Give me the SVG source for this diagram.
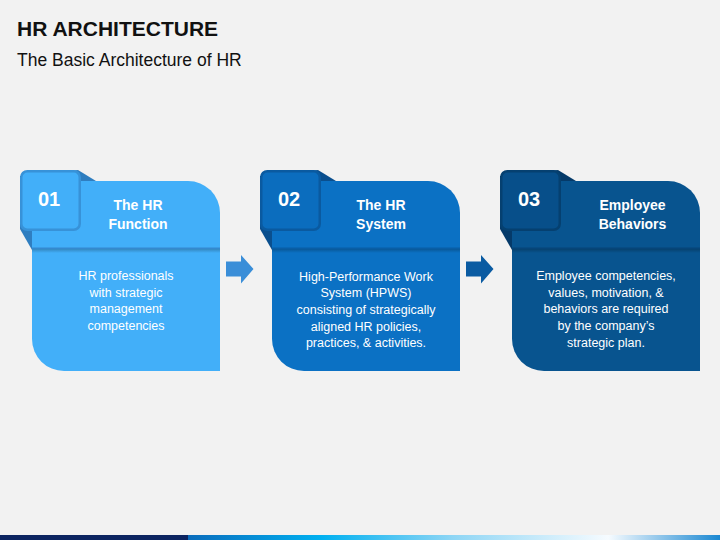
<svg xmlns="http://www.w3.org/2000/svg" width="720" height="540" viewBox="0 0 720 540">
  <defs>
    <linearGradient id="barGrad" x1="188" y1="0" x2="720" y2="0" gradientUnits="userSpaceOnUse">
      <stop offset="0" stop-color="#0a6cbc"/>
      <stop offset="0.25" stop-color="#00b0f0"/>
      <stop offset="0.5" stop-color="#8fd6f5"/>
      <stop offset="0.79" stop-color="#f6fbff"/>
      <stop offset="1" stop-color="#1a88d2"/>
    </linearGradient>
    <linearGradient id="sepShade" x1="0" y1="0" x2="0" y2="1">
      <stop offset="0" stop-color="#000" stop-opacity="0.28"/>
      <stop offset="1" stop-color="#000" stop-opacity="0"/>
    </linearGradient>
    <path id="arrowShape" d="M0,6.5 H15 V0 L27.5,14 L15,28.5 V21.5 H0 Z"/>
  </defs>
  <style>
    .title { font-family: "Liberation Sans", Arial, sans-serif; font-weight: bold; font-size: 21px; fill: #111; }
    .subtitle { font-family: "Liberation Sans", Arial, sans-serif; font-size: 17.5px; fill: #111; }
    .num { font-family: "Liberation Sans", Arial, sans-serif; font-weight: bold; font-size: 20px; fill: #fff; text-anchor: middle; }
    .head { font-family: "Liberation Sans", Arial, sans-serif; font-weight: bold; font-size: 14px; fill: #fff; text-anchor: middle; }
    .body { font-family: "Liberation Sans", Arial, sans-serif; font-size: 12.5px; fill: #fff; text-anchor: middle; }
  </style>
  <rect x="0" y="0" width="720" height="540" fill="#f2f2f2"/>

  <text class="title" x="17" y="36">HR ARCHITECTURE</text>
  <text class="subtitle" x="17" y="66">The Basic Architecture of HR</text>

  <g id="card1">
    <polygon points="20,176 78,170 96,181 32,250 20,229" fill="#2f7ec0"/>
    <path d="M32,181 H188 A32,32 0 0 1 220,213 V371 H64 A32,32 0 0 1 32,339 Z" fill="#42aff9"/>
    <rect x="32" y="248" width="188" height="5" fill="url(#sepShade)"/>
    <rect x="32" y="247.5" width="188" height="1.5" fill="#3489cf"/>
    <rect x="21.25" y="171.25" width="58.5" height="58.5" rx="6" fill="#42aff9" stroke="#3792d8" stroke-width="2.5"/>
    <text class="num" x="49" y="206">01</text>
    <text class="head" x="138" y="210">The HR</text>
    <text class="head" x="138" y="228.5">Function</text>
    <text class="body" x="126" y="280">HR professionals</text>
    <text class="body" x="126" y="296.7">with strategic</text>
    <text class="body" x="126" y="313.3">management</text>
    <text class="body" x="126" y="330">competencies</text>
  </g>

  <g id="card2">
    <polygon points="260,176 318,170 336,181 272,250 260,229" fill="#0a4f8e"/>
    <path d="M272,181 H428 A32,32 0 0 1 460,213 V371 H304 A32,32 0 0 1 272,339 Z" fill="#0b71c4"/>
    <rect x="272" y="248" width="188" height="5" fill="url(#sepShade)"/>
    <rect x="272" y="247.5" width="188" height="1.5" fill="#095ea6"/>
    <rect x="261.25" y="171.25" width="58.5" height="58.5" rx="6" fill="#0b6dbe" stroke="#0a5aa0" stroke-width="2.5"/>
    <text class="num" x="289" y="206">02</text>
    <text class="head" x="381" y="210">The HR</text>
    <text class="head" x="381" y="228.5">System</text>
    <text class="body" x="366" y="280.5">High-Performance Work</text>
    <text class="body" x="366" y="297.2">System (HPWS)</text>
    <text class="body" x="366" y="313.9">consisting of strategically</text>
    <text class="body" x="366" y="330.6">aligned HR policies,</text>
    <text class="body" x="366" y="347">practices, &amp; activities.</text>
  </g>

  <g id="card3">
    <polygon points="500,176 558,170 576,181 512,250 500,229" fill="#053a69"/>
    <path d="M512,181 H668 A32,32 0 0 1 700,213 V371 H544 A32,32 0 0 1 512,339 Z" fill="#08548f"/>
    <rect x="512" y="248" width="188" height="5" fill="url(#sepShade)"/>
    <rect x="512" y="247.5" width="188" height="1.5" fill="#064579"/>
    <rect x="501.25" y="171.25" width="58.5" height="58.5" rx="6" fill="#074f8a" stroke="#054070" stroke-width="2.5"/>
    <text class="num" x="529" y="206">03</text>
    <text class="head" x="632.5" y="210">Employee</text>
    <text class="head" x="632.5" y="228.5">Behaviors</text>
    <text class="body" x="606" y="280">Employee competencies,</text>
    <text class="body" x="606" y="296.7">values, motivation, &amp;</text>
    <text class="body" x="606" y="313.3">behaviors are required</text>
    <text class="body" x="606" y="330">by the company’s</text>
    <text class="body" x="606" y="346.5">strategic plan.</text>
  </g>

  <g id="connectors">
    <use href="#arrowShape" x="226" y="255" fill="#3a8ed8"/>
    <use href="#arrowShape" x="466" y="255" fill="#0a5ba2"/>
  </g>

  <rect x="0" y="535" width="188" height="5" fill="#0c2461"/>
  <rect x="188" y="535" width="532" height="5" fill="url(#barGrad)"/>
</svg>
